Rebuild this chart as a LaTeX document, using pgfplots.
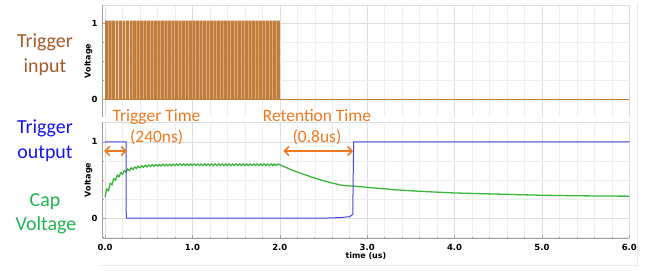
\documentclass[border=0pt]{standalone}
\usepackage{fontspec}
\setmainfont{Carlito}
\newfontfamily\axfont{DejaVu Sans}
\usepackage{pgfplots}
\pgfplotsset{compat=1.18}
\usetikzlibrary{arrows.meta}

\definecolor{trbrown}{RGB}{192,124,56}
\definecolor{txbrown}{RGB}{165,90,40}
\definecolor{trblue}{RGB}{70,70,230}
\definecolor{txblue}{RGB}{20,20,240}
\definecolor{trgreen}{RGB}{60,180,60}
\definecolor{txgreen}{RGB}{30,180,80}
\definecolor{anorange}{RGB}{240,120,30}
\definecolor{gridmin}{RGB}{238,238,238}
\definecolor{gridmaj}{RGB}{222,222,222}
\definecolor{axgray}{RGB}{160,160,160}

\pgfplotsset{
 panel/.style={
  scale only axis, width=526.8bp, xmin=-0.029, xmax=6.0,
  axis lines*=left, axis line style={draw=axgray, line width=0.6bp},
  tick align=inside, tick style={axgray, line width=0.5bp},
  major tick length=3bp, minor tick length=1.5bp,
  xtick={0,1,2,3,4,5,6}, minor x tick num=4,
  ytick={0,1}, yticklabels={0,1}, minor ytick={-0.25,0.25,0.5,0.75},
  grid=both, major grid style={gridmaj, line width=0.5bp},
  minor grid style={gridmin, line width=0.4bp},
  tick label style={font=\axfont\bfseries\fontsize{8.5}{10}\selectfont},
  yticklabel style={xshift=-1.5bp},
  xticklabel style={yshift=-2.5bp},
  ylabel={Voltage},
  ylabel style={at={(axis description cs:-0.0266,0.5)}, anchor=center,
    font=\axfont\bfseries\fontsize{8}{10}\selectfont},
  clip=true,
 }
}

\begin{document}
\begin{tikzpicture}[x=1bp,y=1bp]
\useasboundingbox (0,0) rectangle (649,270);
% outer light frame
\draw[gray!15, line width=0.6bp] (100,5) -- (637,5) -- (637,267);

% ---------- top panel: trigger input ----------
\begin{axis}[panel, at={(102.5bp,153bp)}, anchor=south west, height=112bp,
  ymin=-0.23, ymax=1.235, xticklabels={}, x axis line style={draw=none},
  xtick style={draw=none}]
\draw[gridmaj, line width=0.6bp] (rel axis cs:0,1) -- (rel axis cs:1,1);
\addplot[const plot, draw=none, fill=trbrown] coordinates {
(0,1.03) (0.034,0) (0.04,1.03) (0.074,0) (0.08,1.03) (0.114,0) (0.12,1.03) (0.154,0)
(0.16,1.03) (0.194,0) (0.20,1.03) (0.234,0) (0.24,1.03) (0.274,0) (0.28,1.03) (0.314,0)
(0.32,1.03) (0.354,0) (0.36,1.03) (0.394,0) (0.40,1.03) (0.434,0) (0.44,1.03) (0.474,0)
(0.48,1.03) (0.514,0) (0.52,1.03) (0.554,0) (0.56,1.03) (0.594,0) (0.60,1.03) (0.634,0)
(0.64,1.03) (0.674,0) (0.68,1.03) (0.714,0) (0.72,1.03) (0.754,0) (0.76,1.03) (0.794,0)
(0.80,1.03) (0.834,0) (0.84,1.03) (0.874,0) (0.88,1.03) (0.914,0) (0.92,1.03) (0.954,0)
(0.96,1.03) (0.994,0) (1.00,1.03) (1.034,0) (1.04,1.03) (1.074,0) (1.08,1.03) (1.114,0)
(1.12,1.03) (1.154,0) (1.16,1.03) (1.194,0) (1.20,1.03) (1.234,0) (1.24,1.03) (1.274,0)
(1.28,1.03) (1.314,0) (1.32,1.03) (1.354,0) (1.36,1.03) (1.394,0) (1.40,1.03) (1.434,0)
(1.44,1.03) (1.474,0) (1.48,1.03) (1.514,0) (1.52,1.03) (1.554,0) (1.56,1.03) (1.594,0)
(1.60,1.03) (1.634,0) (1.64,1.03) (1.674,0) (1.68,1.03) (1.714,0) (1.72,1.03) (1.754,0)
(1.76,1.03) (1.794,0) (1.80,1.03) (1.834,0) (1.84,1.03) (1.874,0) (1.88,1.03) (1.914,0)
(1.92,1.03) (1.954,0) (1.96,1.03) (2.00,0) (6.0,0)
} \closedcycle;
\addplot[trbrown, line width=1bp] coordinates {(0,0) (6.0,0)};
\end{axis}

% ---------- bottom panel: trigger output and cap voltage ----------
\begin{axis}[panel, at={(102.5bp,32bp)}, anchor=south west, height=116bp,
  ymin=-0.26, ymax=1.26,
  xticklabels={0.0,1.0,2.0,3.0,4.0,5.0,6.0},
  xlabel={time (us)},
  xlabel style={at={(axis description cs:0.5,0)}, anchor=north, yshift=-14.5bp,
    inner sep=0pt, font=\axfont\bfseries\fontsize{8}{10}\selectfont}]
\draw[gridmaj, line width=0.6bp] (rel axis cs:0,1) -- (rel axis cs:1,1);
\addplot[trgreen, line width=1.3bp] coordinates {
(0,0.28) (0.02,0.381) (0.04,0.361) (0.06,0.458) (0.08,0.438) (0.10,0.517)
(0.12,0.497) (0.14,0.562) (0.16,0.542) (0.18,0.597) (0.20,0.577) (0.22,0.623)
(0.24,0.603) (0.26,0.643) (0.28,0.623) (0.30,0.659) (0.32,0.639) (0.34,0.671)
(0.36,0.651) (0.38,0.680) (0.40,0.660) (0.42,0.687) (0.44,0.667) (0.46,0.692)
(0.48,0.672) (0.50,0.697) (0.52,0.677) (0.54,0.700) (0.56,0.680) (0.58,0.702)
(0.60,0.682) (0.62,0.704) (0.64,0.684) (0.66,0.705) (0.68,0.685) (0.70,0.706)
(0.72,0.686) (0.74,0.707) (0.76,0.687) (0.78,0.708)
(0.80,0.69) (0.82,0.71) (0.84,0.69) (0.86,0.71) (0.88,0.69) (0.90,0.71)
(0.92,0.69) (0.94,0.71) (0.96,0.69) (0.98,0.71) (1.00,0.69) (1.02,0.71)
(1.04,0.69) (1.06,0.71) (1.08,0.69) (1.10,0.71) (1.12,0.69) (1.14,0.71)
(1.16,0.69) (1.18,0.71) (1.20,0.69) (1.22,0.71) (1.24,0.69) (1.26,0.71)
(1.28,0.69) (1.30,0.71) (1.32,0.69) (1.34,0.71) (1.36,0.69) (1.38,0.71)
(1.40,0.69) (1.42,0.71) (1.44,0.69) (1.46,0.71) (1.48,0.69) (1.50,0.71)
(1.52,0.69) (1.54,0.71) (1.56,0.69) (1.58,0.71) (1.60,0.69) (1.62,0.71)
(1.64,0.69) (1.66,0.71) (1.68,0.69) (1.70,0.71) (1.72,0.69) (1.74,0.71)
(1.76,0.69) (1.78,0.71) (1.80,0.69) (1.82,0.71) (1.84,0.69) (1.86,0.71)
(1.88,0.69) (1.90,0.71) (1.92,0.69) (1.94,0.71) (1.96,0.69) (1.98,0.71)
(2.00,0.70) (2.05,0.675) (2.10,0.65) (2.16,0.62) (2.25,0.585) (2.31,0.56)
(2.40,0.525) (2.50,0.49) (2.60,0.46) (2.69,0.435) (2.76,0.425) (2.84,0.42)
(3.04,0.40) (3.34,0.37) (3.60,0.352) (4.00,0.33) (4.50,0.315) (5.00,0.30)
(5.50,0.292) (6.00,0.288)
};
\addplot[trblue, line width=1bp] coordinates {
(0,1.0) (0.24,1.0) (0.243,0.0) (2.5,0.0) (2.7,0.008) (2.8,0.02) (2.835,0.05)
(2.845,1.0) (6.0,1.0)
};
\draw[anorange, line width=1.6bp,
  {Straight Barb[length=4.5bp,width=9bp]}-{Straight Barb[length=4.5bp,width=9bp]}]
  (axis cs:-0.01,0.88) -- (axis cs:0.25,0.88);
\draw[anorange, line width=1.6bp,
  {Straight Barb[length=4.5bp,width=9bp]}-{Straight Barb[length=4.5bp,width=9bp]}]
  (axis cs:2.04,0.88) -- (axis cs:2.84,0.88);
\end{axis}

% ---------- annotations ----------
\begin{scope}[every node/.style={anchor=base, inner sep=0pt}]
\node[anorange, font=\fontsize{17.5}{20}\selectfont] at (156.5,148.5) {Trigger Time};
\node[anorange, font=\fontsize{17.5}{20}\selectfont] at (156.7,127.5) {(240ns)};
\node[anorange, font=\fontsize{17.5}{20}\selectfont] at (317,148.5) {Retention Time};
\node[anorange, font=\fontsize{17.5}{20}\selectfont] at (317,127.5) {(0.8us)};
\node[txbrown, font=\fontsize{20}{24}\selectfont] at (45,222.5) {Trigger};
\node[txbrown, font=\fontsize{20}{24}\selectfont] at (45,197.5) {input};
\node[txblue, font=\fontsize{20}{24}\selectfont] at (45,137) {Trigger};
\node[txblue, font=\fontsize{20}{24}\selectfont] at (45,112) {output};
\node[txgreen, font=\fontsize{20}{24}\selectfont] at (45,64) {Cap};
\node[txgreen, font=\fontsize{20}{24}\selectfont] at (46,40) {Voltage};
\end{scope}
\end{tikzpicture}
\end{document}
